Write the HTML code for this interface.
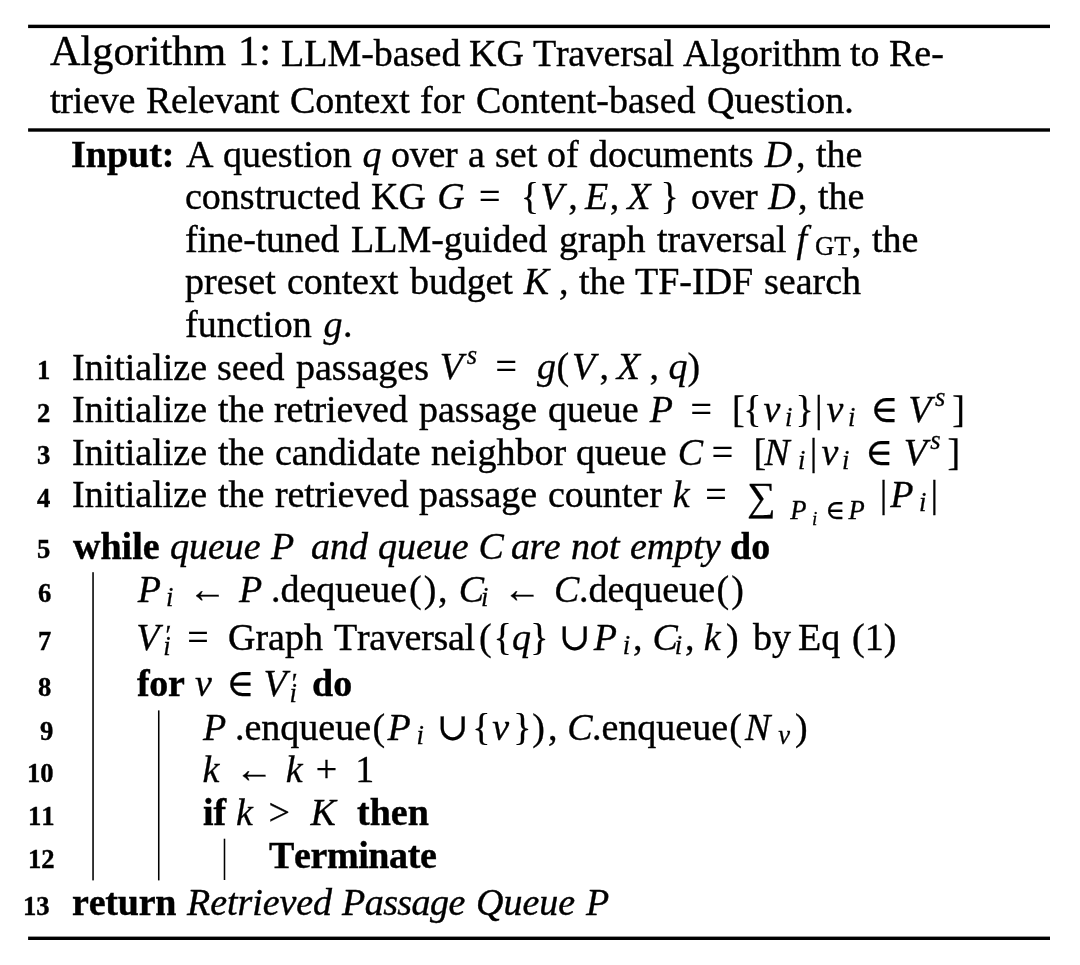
<!DOCTYPE html>
<html><head><meta charset="utf-8"><title>Algorithm 1</title>
<style>
html,body{margin:0;padding:0;background:#fff}
body{width:1080px;height:965px;position:relative;overflow:hidden;font-family:"Liberation Serif",serif;color:#000}
.t{position:absolute;will-change:transform;white-space:pre;line-height:1;font-kerning:none;font-variant-ligatures:none;font-family:"Liberation Serif",serif;color:#000}
.t{-webkit-text-stroke:0.4px #000}
.b{font-weight:bold}.i{font-style:italic}
.k{position:absolute;background:#000}
svg{position:absolute;left:0;top:0}
</style></head><body>

<span class="t r" style="left:185.52px;top:134.78px;font-size:38.00px">A</span>
<span class="t r" style="left:222.89px;top:134.78px;font-size:38.00px">question</span>
<span class="t r" style="left:390.93px;top:134.78px;font-size:38.00px;letter-spacing:-0.284px">over</span>
<span class="t r" style="left:467.71px;top:134.78px;font-size:38.00px">a</span>
<span class="t r" style="left:494.68px;top:134.78px;font-size:38.00px">set</span>
<span class="t r" style="left:547.04px;top:134.78px;font-size:38.00px">of</span>
<span class="t r" style="left:588.94px;top:134.78px;font-size:38.00px">documents</span>
<span class="t r" style="left:795.51px;top:134.78px;font-size:38.00px">,</span>
<span class="t r" style="left:815.60px;top:134.78px;font-size:38.00px">the</span>
<span class="t r" style="left:185.19px;top:177.28px;font-size:38.00px">constructed</span>
<span class="t r" style="left:371.48px;top:177.28px;font-size:38.00px">KG</span>
<span class="t r" style="left:690.60px;top:177.28px;font-size:38.00px;letter-spacing:-0.284px">over</span>
<span class="t r" style="left:798.16px;top:177.28px;font-size:38.00px">,</span>
<span class="t r" style="left:818.33px;top:177.28px;font-size:38.00px">the</span>
<span class="t r" style="left:185.41px;top:219.88px;font-size:38.00px;letter-spacing:-0.207px">fine-tuned</span>
<span class="t r" style="left:351.18px;top:219.88px;font-size:38.00px">LLM-guided</span>
<span class="t r" style="left:559.07px;top:219.88px;font-size:38.00px">graph</span>
<span class="t r" style="left:656.79px;top:219.88px;font-size:38.00px;letter-spacing:-0.145px">traversal</span>
<span class="t r" style="left:814.95px;top:233.42px;font-size:26.60px">GT</span>
<span class="t r" style="left:852.16px;top:219.88px;font-size:38.00px">,</span>
<span class="t r" style="left:871.65px;top:219.88px;font-size:38.00px">the</span>
<span class="t r" style="left:184.84px;top:262.48px;font-size:38.00px">preset</span>
<span class="t r" style="left:286.71px;top:262.48px;font-size:38.00px;letter-spacing:-0.078px">context</span>
<span class="t r" style="left:409.66px;top:262.48px;font-size:38.00px;letter-spacing:-0.125px">budget</span>
<span class="t r" style="left:558.51px;top:262.48px;font-size:38.00px">,</span>
<span class="t r" style="left:578.71px;top:262.48px;font-size:38.00px">the</span>
<span class="t r" style="left:635.36px;top:262.48px;font-size:38.00px">TF-IDF</span>
<span class="t r" style="left:763.65px;top:262.48px;font-size:38.00px">search</span>
<span class="t r" style="left:185.38px;top:304.98px;font-size:38.00px">function</span>
<span class="t r" style="left:343.05px;top:304.98px;font-size:38.00px">.</span>
<span class="t r" style="left:71.60px;top:347.58px;font-size:38.00px">Initialize</span>
<span class="t r" style="left:217.43px;top:347.58px;font-size:38.00px">seed</span>
<span class="t r" style="left:295.97px;top:347.58px;font-size:38.00px">passages</span>
<span class="t r" style="left:71.60px;top:390.18px;font-size:38.00px">Initialize</span>
<span class="t r" style="left:217.52px;top:390.18px;font-size:38.00px">the</span>
<span class="t r" style="left:274.49px;top:390.18px;font-size:38.00px;letter-spacing:-0.166px">retrieved</span>
<span class="t r" style="left:418.76px;top:390.18px;font-size:38.00px">passage</span>
<span class="t r" style="left:547.66px;top:390.18px;font-size:38.00px">queue</span>
<span class="t r" style="left:71.60px;top:432.68px;font-size:38.00px">Initialize</span>
<span class="t r" style="left:217.57px;top:432.68px;font-size:38.00px">the</span>
<span class="t r" style="left:274.61px;top:432.68px;font-size:38.00px">candidate</span>
<span class="t r" style="left:430.74px;top:432.68px;font-size:38.00px">neighbor</span>
<span class="t r" style="left:576.41px;top:432.68px;font-size:38.00px">queue</span>
<span class="t r" style="left:71.60px;top:475.28px;font-size:38.00px">Initialize</span>
<span class="t r" style="left:217.52px;top:475.28px;font-size:38.00px">the</span>
<span class="t r" style="left:274.59px;top:475.28px;font-size:38.00px;letter-spacing:-0.166px">retrieved</span>
<span class="t r" style="left:418.85px;top:475.28px;font-size:38.00px">passage</span>
<span class="t r" style="left:547.87px;top:475.28px;font-size:38.00px">counter</span>
<span class="t b" style="left:72.88px;top:526.67px;font-size:38.00px">while</span>
<span class="t i" style="left:169.80px;top:526.67px;font-size:38.00px">queue</span>
<span class="t i" style="left:310.62px;top:526.67px;font-size:38.00px">and</span>
<span class="t i" style="left:377.72px;top:526.67px;font-size:38.00px">queue</span>
<span class="t i" style="left:511.16px;top:526.67px;font-size:38.00px;letter-spacing:-0.469px">are</span>
<span class="t i" style="left:570.78px;top:526.67px;font-size:38.00px">not</span>
<span class="t i" style="left:629.50px;top:526.67px;font-size:38.00px">empty</span>
<span class="t b" style="left:729.93px;top:526.67px;font-size:38.00px">do</span>
<span class="t r" style="left:271.33px;top:570.47px;font-size:38.00px">.dequeue</span>
<span class="t r" style="left:438.49px;top:570.47px;font-size:38.00px">,</span>
<span class="t r" style="left:578.68px;top:570.47px;font-size:38.00px">.dequeue</span>
<span class="t r" style="left:227.99px;top:618.27px;font-size:38.00px">Graph</span>
<span class="t r" style="left:333.91px;top:618.27px;font-size:38.00px;letter-spacing:-0.293px">Traversal</span>
<span class="t r" style="left:753.00px;top:618.27px;font-size:38.00px">by</span>
<span class="t r" style="left:798.09px;top:618.27px;font-size:38.00px">Eq</span>
<span class="t r" style="left:852.39px;top:618.27px;font-size:38.00px">(1)</span>
<span class="t b" style="left:137.02px;top:664.27px;font-size:38.00px;letter-spacing:-0.315px">for</span>
<span class="t b" style="left:312.40px;top:664.27px;font-size:38.00px">do</span>
<span class="t r" style="left:234.60px;top:707.77px;font-size:38.00px">.enqueue</span>
<span class="t r" style="left:547.86px;top:707.77px;font-size:38.00px">,</span>
<span class="t r" style="left:591.77px;top:707.77px;font-size:38.00px">.enqueue</span>
<span class="t b" style="left:202.53px;top:793.27px;font-size:38.00px">if</span>
<span class="t b" style="left:357.37px;top:793.27px;font-size:38.00px">then</span>
<span class="t b" style="left:269.21px;top:835.87px;font-size:38.00px;letter-spacing:-0.386px">Terminate</span>
<span class="t b" style="left:71.77px;top:883.27px;font-size:38.00px;letter-spacing:-0.208px">return</span>
<span class="t i" style="left:186.77px;top:883.27px;font-size:38.00px;letter-spacing:-0.059px">Retrieved</span>
<span class="t i" style="left:342.47px;top:883.27px;font-size:38.00px;letter-spacing:-0.543px">Passage</span>
<span class="t i" style="left:476.00px;top:883.27px;font-size:38.00px">Queue</span>
<span class="t r" style="left:50.27px;top:80.77px;font-size:38.00px;letter-spacing:-0.249px">trieve</span>
<span class="t r" style="left:145.82px;top:80.77px;font-size:38.00px;letter-spacing:-0.234px">Relevant</span>
<span class="t r" style="left:289.68px;top:80.77px;font-size:38.00px;letter-spacing:-0.079px">Context</span>
<span class="t r" style="left:420.37px;top:80.77px;font-size:38.00px">for</span>
<span class="t r" style="left:475.56px;top:80.77px;font-size:38.00px">Content-based</span>
<span class="t r" style="left:706.99px;top:80.77px;font-size:38.00px">Question.</span>
<span class="t r" style="left:281.24px;top:33.77px;font-size:38.00px">LLM-based</span>
<span class="t r" style="left:468.73px;top:33.77px;font-size:38.00px">KG</span>
<span class="t r" style="left:532.78px;top:33.77px;font-size:38.00px;letter-spacing:-0.293px">Traversal</span>
<span class="t r" style="left:682.55px;top:33.77px;font-size:38.00px">Algorithm</span>
<span class="t r" style="left:850.17px;top:33.77px;font-size:38.00px">to</span>
<span class="t r" style="left:889.21px;top:33.77px;font-size:38.00px">Re-</span>
<span class="t r" style="left:50.38px;top:30.17px;font-size:42.30px">Algorithm</span>
<span class="t r" style="left:238.19px;top:30.17px;font-size:42.30px">1:</span>
<span class="t b" style="left:71.01px;top:134.78px;font-size:38.00px">Input:</span>
<span class="t b" style="left:36.50px;top:357.32px;font-size:26.60px">1</span>
<span class="t b" style="left:36.50px;top:399.92px;font-size:26.60px">2</span>
<span class="t b" style="left:36.50px;top:442.42px;font-size:26.60px">3</span>
<span class="t b" style="left:36.50px;top:485.02px;font-size:26.60px">4</span>
<span class="t b" style="left:36.50px;top:536.42px;font-size:26.60px">5</span>
<span class="t b" style="left:38.30px;top:580.22px;font-size:26.60px">6</span>
<span class="t b" style="left:38.30px;top:628.02px;font-size:26.60px">7</span>
<span class="t b" style="left:38.30px;top:674.02px;font-size:26.60px">8</span>
<span class="t b" style="left:39.80px;top:717.52px;font-size:26.60px">9</span>
<span class="t b" style="left:26.50px;top:760.22px;font-size:26.60px">10</span>
<span class="t b" style="left:27.97px;top:803.02px;font-size:26.60px">11</span>
<span class="t b" style="left:28.20px;top:845.62px;font-size:26.60px">12</span>
<span class="t b" style="left:23.20px;top:893.02px;font-size:26.60px">13</span>
<svg width="1080" height="965" viewBox="0 0 1080 965" fill="#000">
<rect x="28.10" y="24.70" width="1021.90" height="3.40"/>
<rect x="28.10" y="128.30" width="1021.90" height="3.40"/>
<rect x="28.10" y="936.60" width="1021.90" height="3.40"/>
<g font-family="'Liberation Serif','DejaVu Serif',serif" font-size="38" fill="#000" stroke="#000" stroke-width="0.3">
<text x="362.41" y="166.60" font-style="italic">q</text>
<text x="764.73" y="166.60" font-style="italic">D</text>
<text x="437.20" y="209.10" font-style="italic">G</text>
<text x="479.01" y="209.10">=</text>
<text x="520.72" y="209.10">{</text>
<text x="540.15" y="209.10" font-style="italic">V</text>
<text x="568.20" y="209.10">,</text>
<text x="584.99" y="209.10" font-style="italic">E</text>
<text x="609.87" y="209.10">,</text>
<text x="627.32" y="209.10" font-style="italic">X</text>
<text x="660.57" y="209.10">}</text>
<text x="768.14" y="209.10" font-style="italic">D</text>
<text x="796.59" y="251.70" font-style="italic">f</text>
<text x="523.71" y="294.30" font-style="italic">K</text>
<text x="323.49" y="336.80" font-style="italic">g</text>
<text x="439.78" y="379.40" font-style="italic">V</text>
<text x="466.84" y="363.70" font-size="26.6" font-style="italic">s</text>
<text x="495.62" y="379.40">=</text>
<text x="537.06" y="379.40" font-style="italic">g</text>
<text x="556.43" y="379.40">(</text>
<text x="571.92" y="379.40" font-style="italic">V</text>
<text x="599.38" y="379.40">,</text>
<text x="616.72" y="379.40" font-style="italic">X</text>
<text x="649.47" y="379.40">,</text>
<text x="668.48" y="379.40" font-style="italic">q</text>
<text x="687.48" y="379.40">)</text>
<text x="649.77" y="422.00" font-style="italic">P</text>
<text x="690.59" y="422.00">=</text>
<text x="732.09" y="422.00">[</text>
<text x="743.27" y="422.00">{</text>
<text x="763.61" y="422.00" font-style="italic">v</text>
<text x="784.97" y="426.00" font-size="26.6" font-style="italic">i</text>
<text x="795.40" y="422.00">}</text>
<text x="815.09" y="422.00">|</text>
<text x="826.55" y="422.00" font-style="italic">v</text>
<text x="848.06" y="426.00" font-size="26.6" font-style="italic">i</text>
<text x="870.23" y="422.00">∈</text>
<text x="908.34" y="422.00" font-style="italic">V</text>
<text x="934.91" y="406.30" font-size="26.6" font-style="italic">s</text>
<text x="952.25" y="422.00">]</text>
<text x="677.84" y="464.50" font-style="italic">C</text>
<text x="711.86" y="464.50">=</text>
<text x="753.57" y="464.50">[</text>
<text x="764.20" y="464.50" font-style="italic">N</text>
<text x="797.88" y="468.50" font-size="26.6" font-style="italic">i</text>
<text x="809.86" y="464.50">|</text>
<text x="821.52" y="464.50" font-style="italic">v</text>
<text x="842.00" y="468.50" font-size="26.6" font-style="italic">i</text>
<text x="865.09" y="464.50">∈</text>
<text x="903.63" y="464.50" font-style="italic">V</text>
<text x="930.31" y="448.80" font-size="26.6" font-style="italic">s</text>
<text x="947.56" y="464.50">]</text>
<text x="672.68" y="507.10" font-style="italic">k</text>
<text x="705.37" y="507.10">=</text>
<text x="747.05" y="510.00" font-size="40">∑</text>
<text x="790.32" y="518.70" font-size="26.6" font-style="italic">P</text>
<text x="812.02" y="524.70" font-size="19" font-style="italic">i</text>
<text x="825.18" y="518.70" font-size="26.6">∈</text>
<text x="848.40" y="518.70" font-size="26.6" font-style="italic">P</text>
<text x="879.81" y="507.10">|</text>
<text x="890.24" y="507.10" font-style="italic">P</text>
<text x="918.99" y="511.10" font-size="26.6" font-style="italic">i</text>
<text x="930.56" y="507.10">|</text>
<text x="271.04" y="558.50" font-style="italic">P</text>
<text x="478.44" y="558.50" font-style="italic">C</text>
<text x="137.63" y="602.30" font-style="italic">P</text>
<text x="165.92" y="606.30" font-size="26.6" font-style="italic">i</text>
<text x="188.15" y="602.30">←</text>
<text x="239.03" y="602.30" font-style="italic">P</text>
<text x="408.97" y="602.30">(</text>
<text x="423.75" y="602.30">)</text>
<text x="458.64" y="602.30" font-style="italic">C</text>
<text x="480.95" y="606.30" font-size="26.6" font-style="italic">i</text>
<text x="503.07" y="602.30">←</text>
<text x="553.96" y="602.30" font-style="italic">C</text>
<text x="716.55" y="602.30">(</text>
<text x="731.35" y="602.30">)</text>
<text x="136.25" y="650.10" font-style="italic">V</text>
<text x="163.13" y="655.40" font-size="26.6" font-style="italic">i</text>
<text x="165.45" y="644.00" font-size="26.6">′</text>
<text x="187.13" y="650.10">=</text>
<text x="479.05" y="650.10">(</text>
<text x="493.41" y="650.10">{</text>
<text x="512.03" y="650.10" font-style="italic">q</text>
<text x="530.28" y="650.10">}</text>
<text x="558.63" y="650.10">∪</text>
<text x="593.82" y="650.10" font-style="italic">P</text>
<text x="622.69" y="654.10" font-size="26.6" font-style="italic">i</text>
<text x="633.06" y="650.10">,</text>
<text x="652.39" y="650.10" font-style="italic">C</text>
<text x="674.78" y="654.10" font-size="26.6" font-style="italic">i</text>
<text x="685.11" y="650.10">,</text>
<text x="703.85" y="650.10" font-style="italic">k</text>
<text x="726.02" y="650.10">)</text>
<text x="194.89" y="696.10" font-style="italic">v</text>
<text x="226.31" y="696.10">∈</text>
<text x="263.54" y="696.10" font-style="italic">V</text>
<text x="289.42" y="702.30" font-size="26.6" font-style="italic">i</text>
<text x="291.67" y="692.00" font-size="26.6">′</text>
<text x="202.91" y="739.60" font-style="italic">P</text>
<text x="372.56" y="739.60">(</text>
<text x="387.47" y="739.60" font-style="italic">P</text>
<text x="416.58" y="743.60" font-size="26.6" font-style="italic">i</text>
<text x="436.63" y="739.60">∪</text>
<text x="472.37" y="739.60">{</text>
<text x="492.14" y="739.60" font-style="italic">v</text>
<text x="513.26" y="739.60">}</text>
<text x="532.29" y="739.60">)</text>
<text x="567.17" y="739.60" font-style="italic">C</text>
<text x="729.23" y="739.60">(</text>
<text x="744.88" y="739.60" font-style="italic">N</text>
<text x="778.33" y="743.60" font-size="26.6" font-style="italic">v</text>
<text x="795.01" y="739.60">)</text>
<text x="202.48" y="782.30" font-style="italic">k</text>
<text x="234.89" y="782.30">←</text>
<text x="285.73" y="782.30" font-style="italic">k</text>
<text x="315.71" y="782.30">+</text>
<text x="355.25" y="782.30">1</text>
<text x="235.88" y="825.10" font-style="italic">k</text>
<text x="268.53" y="825.10">&gt;</text>
<text x="310.41" y="825.10" font-style="italic">K</text>
<text x="585.88" y="915.10" font-style="italic">P</text>
</g>
<rect x="92.27" y="572.20" width="1.55" height="308.20"/>
<rect x="157.97" y="710.40" width="1.55" height="170.00"/>
<rect x="223.72" y="838.70" width="1.55" height="41.30"/>
</svg>
</body></html>
